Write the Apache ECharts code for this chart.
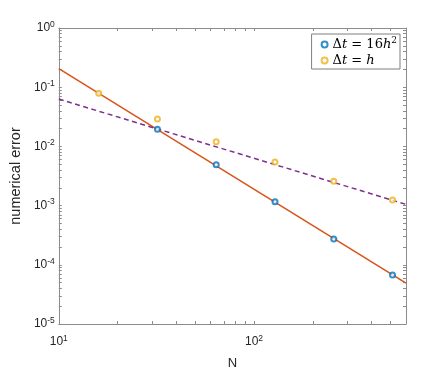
<!DOCTYPE html>
<html>
<head>
<meta charset="utf-8">
<script src="https://cdn.jsdelivr.net/npm/echarts@6/dist/echarts.min.js"></script>
<style>
  html, body { margin: 0; padding: 0; background: #fff; }
  #chart { width: 448px; height: 375px; }
</style>
</head>
<body>
<div id="chart"></div>
<script>
// data
var nFine = [32, 64, 128, 256, 512];
var errFine = [0.0195, 0.0049, 0.00116, 0.000272, 0.000067];
var nCoarse = [16, 32, 64, 128, 256, 512];
var errCoarse = [0.079, 0.0289, 0.012, 0.00543, 0.00257, 0.00124];

// reference slopes (end points at the axis limits)
var fitX = [10, 600];
var fitSecond = [0.206, 0.000049];
var fitFirst = [0.063, 0.00105];

var xLabelVals = [10, 100];
var yLabelVals = [1e-5, 1e-4, 1e-3, 1e-2, 1e-1, 1];

// minor + major ticks per decade
function decadeTicks(lo, hi) {
  var out = [];
  for (var e = lo; e < hi; e++) {
    for (var m = 1; m < 10; m++) out.push(m * Math.pow(10, e));
  }
  out.push(Math.pow(10, hi));
  return out;
}
var xTickVals = decadeTicks(1, 2).concat([200, 300, 400, 500]);
var yTickVals = decadeTicks(-5, 0);

var pairs = function (xs, ys) {
  return xs.map(function (x, i) { return [x, ys[i]]; });
};

var powLabel = function (v) {
  var e = Math.round(Math.log10(v));
  return '{b|10}{s|' + e + '}';
};
var labelRich = {
  b: { fontSize: 12, color: '#262626', fontFamily: 'Liberation Sans' },
  s: { fontSize: 8.5, color: '#262626', fontFamily: 'Liberation Sans', verticalAlign: 'bottom', padding: [0, 0, 7, 0] }
};

var axisCol = '#8c8c8c';

var legendNames = {
  fine: '{n|\u0394}{i|t}{n| = 16}{i|h}{sup|2}',
  coarse: '{n|\u0394}{i|t}{n| = }{i|h}'
};

var chart = echarts.init(document.getElementById('chart'));
chart.setOption({
  animation: false,
  backgroundColor: '#fff',
  grid: { left: 58, right: 42, top: 28, bottom: 46 },
  legend: {
    orient: 'vertical',
    right: 48,
    top: 34,
    itemWidth: 6,
    itemHeight: 6,
    itemGap: 3,
    padding: [2, 3, 2, 9],
    borderColor: '#7f7f7f',
    borderWidth: 1,
    backgroundColor: '#fff',
    data: ['fine', 'coarse'],
    formatter: function (name) { return legendNames[name]; },
    textStyle: {
      rich: {
        n: { fontFamily: 'DejaVu Serif', fontSize: 13, color: '#000' },
        i: { fontFamily: 'DejaVu Serif', fontStyle: 'italic', fontSize: 13, color: '#000' },
        sup: { fontFamily: 'DejaVu Serif', fontSize: 9, color: '#000', verticalAlign: 'bottom', padding: [0, 0, 8, 0] }
      }
    }
  },
  xAxis: [
    {
      type: 'log', logBase: 10, min: 10, max: 600,
      name: 'N', nameLocation: 'middle', nameGap: 33,
      nameTextStyle: { fontSize: 13, color: '#262626', fontFamily: 'Liberation Sans' },
      axisLine: { show: true, lineStyle: { color: axisCol } },
      axisTick: { inside: true, length: 3, customValues: xTickVals, lineStyle: { color: axisCol } },
      axisLabel: { customValues: xLabelVals, formatter: powLabel, rich: labelRich, margin: 10 },
      splitLine: { show: false }
    },
    {
      type: 'log', logBase: 10, min: 10, max: 600, position: 'top',
      axisLine: { show: true, lineStyle: { color: axisCol } },
      axisTick: { inside: true, length: 3, customValues: xTickVals, lineStyle: { color: axisCol } },
      axisLabel: { show: false },
      splitLine: { show: false }
    }
  ],
  yAxis: [
    {
      type: 'log', logBase: 10, min: 1e-5, max: 1,
      name: 'numerical error', nameLocation: 'middle', nameGap: 31,
      nameTextStyle: { fontSize: 14.5, color: '#262626', fontFamily: 'Liberation Sans' },
      axisLine: { show: true, lineStyle: { color: axisCol } },
      axisTick: { inside: true, length: 3, customValues: yTickVals, lineStyle: { color: axisCol } },
      axisLabel: { customValues: yLabelVals, formatter: powLabel, rich: labelRich, margin: 4 },
      splitLine: { show: false }
    },
    {
      type: 'log', logBase: 10, min: 1e-5, max: 1, position: 'right',
      axisLine: { show: true, lineStyle: { color: axisCol } },
      axisTick: { inside: true, length: 3, customValues: yTickVals, lineStyle: { color: axisCol } },
      axisLabel: { show: false },
      splitLine: { show: false }
    }
  ],
  series: [
    {
      name: 'second', type: 'line', data: pairs(fitX, fitSecond),
      symbol: 'none', lineStyle: { color: '#D95319', width: 1.5 }, z: 2
    },
    {
      name: 'first', type: 'line', data: pairs(fitX, fitFirst),
      symbol: 'none', lineStyle: { color: '#7E2F8E', width: 1.5, type: [5, 3.5] }, z: 2
    },
    {
      name: 'fine', type: 'scatter', data: pairs(nFine, errFine),
      symbol: 'emptyCircle', symbolSize: 5,
      itemStyle: { color: '#0072BD', borderColor: '#0072BD', borderWidth: 1.6 }, z: 3
    },
    {
      name: 'coarse', type: 'scatter', data: pairs(nCoarse, errCoarse),
      symbol: 'emptyCircle', symbolSize: 5,
      itemStyle: { color: '#EDB120', borderColor: '#EDB120', borderWidth: 1.6 }, z: 3
    }
  ]
});
</script>
</body>
</html>
